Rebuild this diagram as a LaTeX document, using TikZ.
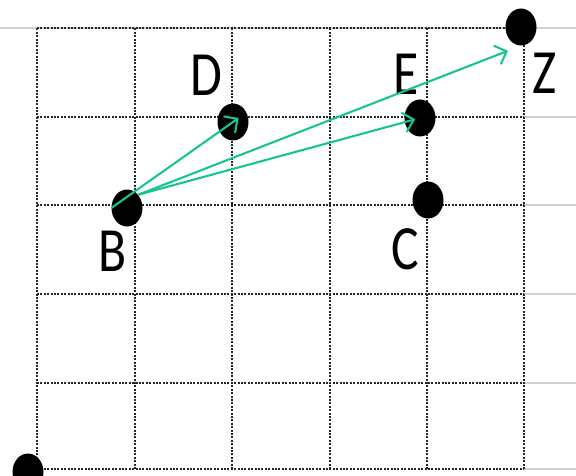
\documentclass[tikz,border=0pt]{standalone}
\usepackage{fontspec}
\setmainfont{Carlito}
\usepackage{xcolor}
\usetikzlibrary{shapes,arrows.meta,positioning,calc}

\definecolor{arrowgreen}{RGB}{22,196,148}

\begin{document}
\begin{tikzpicture}[x=1pt,y=1pt,
  griddot/.style={line width=2pt,dash pattern=on 2pt off 1.4pt,black!85},
  sheetline/.style={black!18,line width=1.2pt},
  pt/.style={ellipse,fill=black,minimum width=31pt,minimum height=37pt,inner sep=0pt},
  lbl/.style={font=\fontsize{63}{63}\selectfont,xscale=0.82,inner sep=0pt},
  vec/.style={draw=arrowgreen,line width=2.1pt,-{Straight Barb[length=10pt,width=20pt]}}]
\useasboundingbox (0,0) rectangle (576,475);

% sheet lines behind the grid
\draw[sheetline] (0,447) -- (576,447);
\draw[sheetline] (524,358) -- (576,358);
\draw[sheetline] (524,270) -- (576,270);
\draw[sheetline] (524,181) -- (576,181);
\draw[sheetline] (524,92) -- (576,92);
\draw[sheetline] (524,6) -- (576,6);

% dotted grid
\draw[griddot] (37,6) -- (37,447);
\draw[griddot] (135,6) -- (135,447);
\draw[griddot] (232,6) -- (232,447);
\draw[griddot] (330,6) -- (330,447);
\draw[griddot] (427,6) -- (427,447);
\draw[griddot] (524,6) -- (524,447);

\draw[griddot] (37,447) -- (524,447);
\draw[griddot] (37,358) -- (524,358);
\draw[griddot] (37,270) -- (524,270);
\draw[griddot] (37,181) -- (524,181);
\draw[griddot] (37,92) -- (524,92);
\draw[griddot] (37,6) -- (524,6);

% points
\node[pt] (O) at (28,3) {};
\node[pt] (B) at (127,267) {};
\node[pt] (D) at (233,353) {};
\node[pt] (E) at (420,357) {};
\node[pt] (C) at (428,275) {};
\node[pt] (Z) at (521,448) {};

\node[lbl] (labB) at (113,224) {B};
\node[lbl] (labD) at (206,400) {D};
\node[lbl] (labE) at (406,401) {E};
\node[lbl] (labC) at (405,226) {C};
\node[lbl] (labZ) at (545,402) {Z};

% vectors from B
\draw[vec,shorten >=-7pt] (B.west) -- (D.center);
\draw[vec,shorten >=5pt] (B.north east) -- (E.center);
\draw[vec,shorten >=14pt] (B.north east) -- (Z.south);
\end{tikzpicture}
\end{document}
